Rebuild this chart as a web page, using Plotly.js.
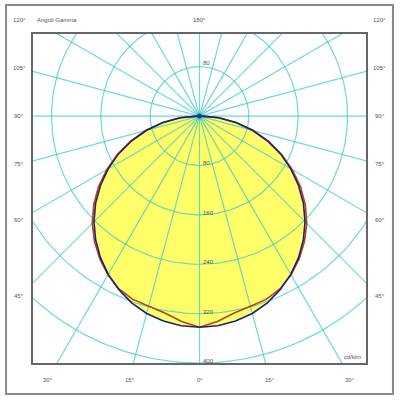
<!DOCTYPE html>
<html>
<head>
<meta charset="utf-8">
<script src="https://cdn.plot.ly/plotly-3.0.1.min.js"></script>
<style>html,body{margin:0;padding:0;background:#fff;}#chart{width:400px;height:400px;}</style>
</head>
<body>
<div id="chart"></div>
<script>
// Gamma angles (degrees from nadir) and intensities in cd/klm
const gammaDeg = [0,5,10,15,20,25,30,35,40,45,50,55,60,65,70,75,80,85,90];
const planeC0_180 = [342,341,337,331,322,310,296,280,262,242,220,196,171,145,117,89,60,31,4];
const planeC90_270 = [342,334,324,319,316,309,297,282,265,246,224,200,174,147,119,90,61,32,5];

// Grid definition
const gridRadii = [80,160,240,320,400];
const radialAngles = [0,15,30,45,60,75,90,105,120,135,150,165,180,195,210,225,240,255,270,285,300,315,330,345];

// Labels
const sideLabels = ['120°','105°','90°','75°','60°','45°'];
const sideLabelPaperY = [1.0426,0.897,0.751,0.605,0.435,0.204];
const bottomLabels = ['30°','15°','0°','15°','30°'];
const bottomLabelX = [-245,-113,0,114,244];
const radialLabels = ['80','160','240','320','400'];

const rad = d => d*Math.PI/180;

function curveXY(vals){
  const x=[], y=[];
  for(let i=gammaDeg.length-1;i>=0;i--){ x.push(-vals[i]*Math.sin(rad(gammaDeg[i]))); y.push(-vals[i]*Math.cos(rad(gammaDeg[i]))); }
  for(let i=1;i<gammaDeg.length;i++){ x.push(vals[i]*Math.sin(rad(gammaDeg[i]))); y.push(-vals[i]*Math.cos(rad(gammaDeg[i]))); }
  return {x,y};
}

const cA = curveXY(planeC0_180);
const cB = curveXY(planeC90_270);

// grid circles
const gcx=[], gcy=[];
gridRadii.forEach(r=>{
  for(let a=0;a<=360;a+=2){ gcx.push(r*Math.sin(rad(a))); gcy.push(-r*Math.cos(rad(a))); }
  gcx.push(null); gcy.push(null);
});
// radial lines
const glx=[], gly=[];
radialAngles.forEach(a=>{
  glx.push(0, 1200*Math.sin(rad(a)), null);
  gly.push(0, -1200*Math.cos(rad(a)), null);
});

const gridColor = 'rgba(50,200,200,0.7)';
const traces = [
  {x:cA.x, y:cA.y, mode:'lines', fill:'toself', fillcolor:'#ffff6a', line:{width:0}, hoverinfo:'skip'},
  {x:cB.x, y:cB.y, mode:'lines', fill:'toself', fillcolor:'#ffff6a', line:{width:0}, hoverinfo:'skip'},
  {x:gcx, y:gcy, mode:'lines', line:{color:gridColor, width:1.2}, hoverinfo:'skip'},
  {x:glx, y:gly, mode:'lines', line:{color:gridColor, width:1.2}, hoverinfo:'skip'},
  {x:cB.x, y:cB.y, mode:'lines', line:{color:'#b8421c', width:1.6}, name:'C90-270'},
  {x:cA.x, y:cA.y, mode:'lines', line:{color:'#1e1e7e', width:1.6}, name:'C0-180'},
  {x:[0], y:[0], mode:'markers', marker:{color:'#1a3aa0', size:5}, hoverinfo:'skip'}
];

const f = {family:'Liberation Sans, Arial, sans-serif', size:6, color:'#555'};
const ann = [];
sideLabels.forEach((t,i)=>{
  ann.push({text:t, xref:'paper', x:-0.042, yref:'paper', y:sideLabelPaperY[i], showarrow:false, font:f, xanchor:'center', yanchor:'middle'});
  ann.push({text:t, xref:'paper', x:1.042, yref:'paper', y:sideLabelPaperY[i], showarrow:false, font:f, xanchor:'center', yanchor:'middle'});
});
bottomLabels.forEach((t,i)=>{
  ann.push({text:t, xref:'x', x:bottomLabelX[i], yref:'paper', y:-0.052, showarrow:false, font:f, xanchor:'center', yanchor:'middle'});
});
ann.push({text:'Angoli Gamma', xref:'paper', x:0.006, yref:'paper', y:1.0426, showarrow:false, font:f, xanchor:'left', yanchor:'middle'});
ann.push({text:'180°', xref:'x', x:0, yref:'paper', y:1.0426, showarrow:false, font:f, xanchor:'center', yanchor:'middle'});
radialLabels.forEach((t,i)=>{
  ann.push({text:t, xref:'x', x:2, yref:'y', y:-gridRadii[i], yshift:2, showarrow:false, font:f, xanchor:'left', yanchor:'middle'});
});
ann.push({text:radialLabels[0], xref:'x', x:2, yref:'y', y:gridRadii[0], yshift:4, showarrow:false, font:f, xanchor:'left', yanchor:'middle'});
ann.push({text:'cd/klm', xref:'paper', x:0.992, yref:'paper', y:0.018, showarrow:false, font:f, xanchor:'right', yanchor:'middle'});

const layout = {
  width:400, height:400,
  margin:{l:33, r:34, t:34, b:37, pad:0},
  paper_bgcolor:'#fff', plot_bgcolor:'#fff',
  showlegend:false,
  xaxis:{range:[-270,270], showgrid:false, zeroline:false, showticklabels:false, ticks:'', showline:true, mirror:true, linecolor:'#666', linewidth:2, fixedrange:true},
  yaxis:{range:[-400,133], showgrid:false, zeroline:false, showticklabels:false, ticks:'', showline:true, mirror:true, linecolor:'#666', linewidth:2, fixedrange:true},
  shapes:[{type:'rect', xref:'paper', yref:'paper', x0:-0.081, x1:1.081, y0:-0.094, y1:1.088, line:{color:'#8a8a8a', width:2}}],
  annotations:ann
};

Plotly.newPlot('chart', traces, layout, {staticPlot:true, displayModeBar:false});
</script>
</body>
</html>
